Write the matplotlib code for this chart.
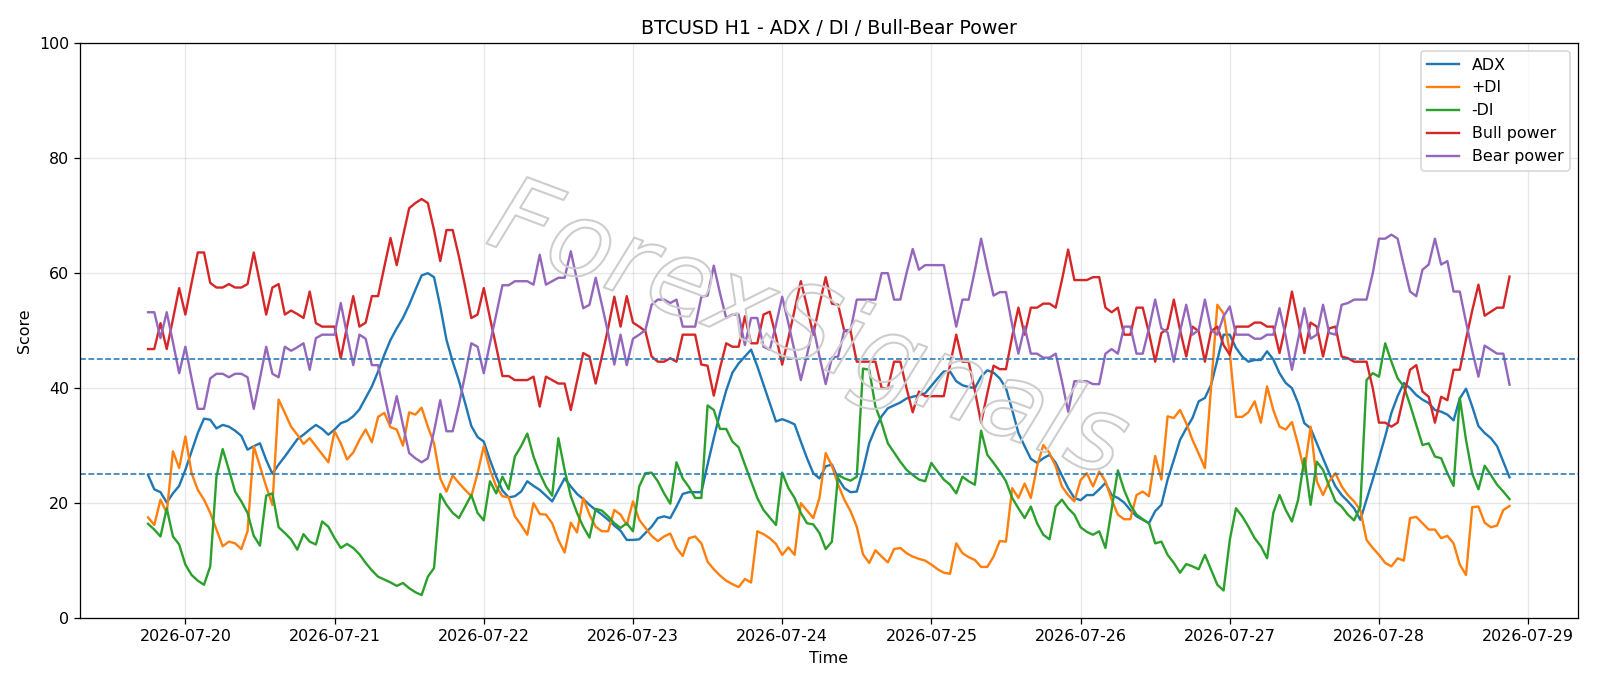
import matplotlib
matplotlib.use("Agg")
import matplotlib.pyplot as plt
import matplotlib.patheffects as pe
import pandas as pd

# hourly bars, 2026-07-19 18:00 .. 2026-07-28 21:00
start = "2026-07-19 18:00"
n_bars = 220

adx = [24.9, 22.4, 21.9, 20.1, 21.7, 23, 25.8, 29, 32.2, 34.7,
       34.5, 33, 33.6, 33.3, 32.6, 31.7, 29.3, 29.9, 30.4, 27.5,
       25.1, 26.7, 28.1, 29.6, 31.1, 31.9, 32.8, 33.6, 32.9, 31.9,
       32.8, 33.9, 34.3, 35.1, 36.3, 38.3, 40.3, 42.9, 45.8, 48.4,
       50.4, 52.2, 54.5, 57.1, 59.6, 60, 59.3, 54.2, 48.4, 44.6,
       41.3, 37.4, 33.4, 31.5, 30.7, 27.5, 24.6, 22.2, 21, 21.2,
       22, 23.8, 23, 22.3, 21.3, 20.3, 22.3, 24.3, 22.9, 21.6,
       20.7, 19.7, 18.8, 18, 17.1, 16.1, 15.2, 13.6, 13.6, 13.7,
       14.8, 15.9, 17.4, 17.7, 17.4, 19.4, 21.6, 21.9, 21.9, 21.9,
       26.7, 31.3, 35.7, 39.6, 42.7, 44.3, 45.5, 46.7, 43.8, 40.6,
       37.4, 34.2, 34.6, 34.2, 33.7, 30.7, 27.8, 25.2, 24.3, 26.4,
       26.7, 24.3, 22.6, 21.9, 22, 25.8, 30.4, 33, 35.1, 36.5,
       37, 37.5, 38.2, 38.5, 38.8, 39.1, 40.4, 41.7, 42.9, 42.9,
       41.2, 40.5, 40.2, 40, 42, 43.1, 42.7, 41.7, 40, 36.2,
       32.2, 29.9, 27.7, 27, 27.8, 28.4, 27, 24.8, 22.6, 20.9,
       20.5, 21.4, 21.4, 22.4, 23.5, 21.4, 20.9, 20.1, 18.8, 17.7,
       17.1, 16.5, 18.6, 19.7, 24.1, 27.5, 31, 33, 34.8, 37.7,
       38.3, 40.6, 44.9, 49.3, 49.3, 47, 45.5, 44.6, 44.9, 44.9,
       46.4, 45, 42.6, 40.9, 40, 37.4, 33.9, 33, 30.4, 27.8,
       25.2, 22.9, 21.4, 20.3, 19.1, 17.1, 20.6, 24.1, 27.8, 31.6,
       35.7, 38.6, 40.9, 40, 38.8, 38, 37.4, 36.2, 35.9, 35.4,
       34.4, 38.2, 39.9, 36.8, 33.4, 32.2, 31.3, 29.9, 27.2, 24.5]

plus_di = [17.5, 16.2, 20.6, 18.3, 29, 26.1, 31.6, 25.2, 22.3, 20.6,
           18.3, 15.4, 12.5, 13.3, 13, 12, 15.1, 29.9, 26.4, 22.9,
           19.7, 38, 35.7, 33.3, 31.9, 30.3, 31.3, 29.9, 28.5, 27.1,
           32.5, 30.4, 27.6, 28.8, 31, 32.8, 30.6, 35, 35.7, 33.2,
           32.8, 30, 35.8, 35.4, 36.6, 33.3, 30.4, 24.3, 22, 24.8,
           23.5, 22.3, 21.2, 25.2, 29.9, 25.8, 22.9, 21.2, 21, 17.7,
           16.2, 14.5, 20, 18.1, 18, 16.5, 13.6, 11.4, 16.6, 14.9,
           20.9, 18, 15.9, 15.1, 15.1, 18.8, 18, 16.2, 20.3, 17.1,
           15.7, 14.3, 13.4, 14.2, 14.7, 12.2, 10.8, 13.9, 14.2, 13,
           9.8, 8.5, 7.4, 6.5, 5.9, 5.4, 6.8, 6.2, 15.1, 14.6,
           13.9, 12.9, 11, 12.3, 11, 20, 18.7, 17.4, 20.9, 28.7,
           26.5, 23.2, 20.6, 18.6, 15.9, 11.1, 9.6, 11.8, 10.7, 9.7,
           12, 12.2, 11.3, 10.7, 10.3, 10, 9.3, 8.5, 7.9, 7.7,
           13, 11.3, 10.6, 10.1, 8.9, 8.9, 10.7, 13.4, 13.3, 22.6,
           20.9, 23.4, 20.9, 26.4, 30.1, 28.7, 26.4, 22.9, 21.4, 20.3,
           24, 25.2, 22.9, 25.5, 23.8, 20.6, 18, 17.2, 17.2, 21.4,
           22, 21.2, 28.2, 24.1, 35.1, 34.8, 36.2, 33.9, 31, 28.6,
           26.1, 40.3, 54.5, 53, 46.1, 35, 35, 35.8, 37.7, 34,
           40.3, 36.2, 33.3, 32.8, 34.1, 30.1, 25.5, 33.3, 23.8, 21.4,
           23.8, 25.2, 22.9, 21.4, 20.3, 18.8, 13.6, 12.2, 11, 9.6,
           9, 10.4, 10, 17.4, 17.6, 16.5, 15.4, 15.4, 13.9, 14.3,
           13, 9.3, 7.5, 19.3, 19.4, 16.6, 15.8, 16.1, 18.8, 19.5]

minus_di = [16.4, 15.4, 14.2, 19.1, 14.2, 12.8, 9.3, 7.5, 6.5, 5.8,
            9, 24.6, 29.4, 25.8, 22, 20.3, 18.3, 14.3, 12.6, 21.3,
            21.7, 15.8, 14.8, 13.7, 11.9, 14.6, 13.3, 12.8, 16.8, 15.9,
            13.9, 12.2, 12.9, 12.2, 11.1, 9.6, 8.3, 7.2, 6.7, 6.2,
            5.6, 6.1, 5.2, 4.5, 4, 7.2, 8.7, 21.6, 19.7, 18.3,
            17.4, 19.4, 21.4, 18.3, 17, 23.8, 21.7, 24.6, 22.4, 28.1,
            29.9, 32.1, 28.1, 25.2, 22.9, 21.3, 31.3, 25.8, 21.2, 18.3,
            15.9, 14, 19, 18.7, 17.7, 16.5, 15.7, 16.5, 15.1, 22.9,
            25.2, 25.3, 23.8, 21.7, 19.9, 27.1, 24.3, 22.8, 20.9, 20.9,
            37, 36.2, 32.9, 32.9, 30.7, 29.7, 26.7, 23.8, 20.9, 18.8,
            17.5, 16.2, 25.3, 22.6, 20.9, 18.3, 16.5, 16.3, 14.8, 12,
            13.3, 24.9, 24.3, 23.9, 24.6, 43.4, 43.2, 36.8, 33.9, 30.4,
            28.8, 27.2, 25.8, 24.9, 24.1, 23.8, 27, 25.5, 24.1, 23.2,
            21.7, 24.6, 23.8, 23.2, 32.6, 28.4, 27, 25.5, 23.8, 20.9,
            19.1, 17.4, 19.4, 16.5, 14.5, 13.7, 19.4, 20.6, 19.1, 18,
            15.8, 15, 14.5, 15.1, 12.2, 19, 25.7, 22.3, 19.7, 18,
            17.2, 16.5, 13, 13.3, 11, 9.6, 7.9, 9.4, 9, 8.5,
            11, 8.4, 5.8, 4.8, 13.6, 19.1, 17.7, 15.9, 13.9, 12.5,
            10.4, 18.3, 21.4, 18.8, 16.8, 20.6, 27.8, 19.7, 27.2, 25.8,
            22.9, 20.3, 19.4, 18, 17, 19.4, 41.4, 42.6, 42, 47.8,
            44.6, 41.7, 40.3, 37.1, 33.6, 30.1, 30.4, 28.1, 27.8, 25.2,
            23, 38.3, 31, 25.1, 22.4, 26.5, 24.9, 23.2, 22, 20.7]

bull = [46.8, 46.8, 51.3, 46.8, 52, 57.4, 52.8, 58.3, 63.6, 63.6,
        58.3, 57.5, 57.5, 58.1, 57.5, 57.5, 58.1, 63.6, 58.3, 52.8,
        57.5, 58.1, 52.8, 53.5, 52.9, 52.2, 56.8, 51.3, 50.7, 50.7,
        50.7, 45.2, 50.7, 56, 50.7, 51.4, 56, 56, 61.1, 66.1,
        61.4, 66.4, 71.3, 72.2, 72.9, 72.2, 67.5, 62.1, 67.5, 67.5,
        62.9, 57.7, 52.2, 52.8, 57.4, 52.2, 47.2, 42.1, 42.1, 41.4,
        41.4, 41.4, 42, 36.8, 42, 41.4, 40.8, 40.8, 36.2, 41.2,
        46.1, 45.5, 40.8, 45.5, 50.4, 55.9, 50.7, 56, 51.4, 50.7,
        49.9, 45.5, 44.6, 44.6, 45.2, 44.6, 49.3, 49.3, 49.3, 44.1,
        43.9, 38.7, 43.5, 47.8, 47.2, 47.2, 52.5, 47.8, 47.8, 52.8,
        53.3, 49, 44.1, 48.7, 53.6, 58.6, 54.2, 49.3, 54.5, 59.3,
        54.7, 54.5, 49.9, 49.9, 44.6, 44.6, 44.6, 44.6, 40, 40,
        44.6, 44.6, 40, 35.8, 39.4, 38.6, 38.6, 38.6, 38.6, 44,
        49.3, 44.6, 44.6, 39.5, 34, 39.1, 43.9, 43.3, 43.3, 49,
        54, 49.3, 54, 54, 54.7, 54.7, 54, 58.8, 64.1, 58.8,
        58.8, 58.8, 59.3, 59.3, 54, 53.2, 54, 49.3, 49.3, 54,
        54, 49.6, 44.6, 49.6, 50.3, 55.4, 50.1, 45.5, 50.7, 49.9,
        44.6, 49.9, 50.7, 47.5, 45.8, 50.7, 50.7, 50.7, 51.4, 51.4,
        50.7, 50.7, 46.1, 51, 56.8, 51.5, 46.1, 51.4, 50.7, 45.5,
        50.4, 50.7, 45.5, 45.2, 44.6, 44.6, 44.6, 40, 34, 34,
        33.3, 34, 38.7, 43.2, 44, 39.4, 38.5, 34, 38.5, 37.9,
        43.2, 43.2, 48.5, 53.5, 58, 52.6, 53.3, 54, 54, 59.4]

bear = [53.2, 53.2, 48.7, 53.2, 48, 42.6, 47.2, 41.7, 36.4, 36.4,
        41.7, 42.5, 42.5, 41.9, 42.5, 42.5, 41.9, 36.4, 41.7, 47.2,
        42.5, 41.9, 47.2, 46.5, 47.1, 47.8, 43.2, 48.7, 49.3, 49.3,
        49.3, 54.8, 49.3, 44, 49.3, 48.6, 44, 44, 38.9, 33.9,
        38.6, 33.6, 28.7, 27.8, 27.1, 27.8, 32.5, 37.9, 32.5, 32.5,
        37.1, 42.3, 47.8, 47.2, 42.6, 47.8, 52.8, 57.9, 57.9, 58.6,
        58.6, 58.6, 58, 63.2, 58, 58.6, 59.2, 59.2, 63.8, 58.8,
        53.9, 54.5, 59.2, 54.5, 49.6, 44.1, 49.3, 44, 48.6, 49.3,
        50.1, 54.5, 55.4, 55.4, 54.8, 55.4, 50.7, 50.7, 50.7, 55.9,
        56.1, 61.3, 56.5, 52.2, 52.8, 52.8, 47.5, 52.2, 52.2, 47.2,
        46.7, 51, 55.9, 51.3, 46.4, 41.4, 45.8, 50.7, 45.5, 40.7,
        45.3, 45.5, 50.1, 50.1, 55.4, 55.4, 55.4, 55.4, 60, 60,
        55.4, 55.4, 60, 64.2, 60.6, 61.4, 61.4, 61.4, 61.4, 56,
        50.7, 55.4, 55.4, 60.5, 66, 60.9, 56.1, 56.7, 56.7, 51,
        46, 50.7, 46, 46, 45.3, 45.3, 46, 41.2, 35.9, 41.2,
        41.2, 41.2, 40.7, 40.7, 46, 46.8, 46, 50.7, 50.7, 46,
        46, 50.4, 55.4, 50.4, 49.7, 44.6, 49.9, 54.5, 49.3, 50.1,
        55.4, 50.1, 49.3, 52.5, 54.2, 49.3, 49.3, 49.3, 48.6, 48.6,
        49.3, 49.3, 53.9, 49, 43.2, 48.5, 53.9, 48.6, 49.3, 54.5,
        49.6, 49.3, 54.5, 54.8, 55.4, 55.4, 55.4, 60, 66, 66,
        66.7, 66, 61.3, 56.8, 56, 60.6, 61.5, 66, 61.5, 62.1,
        56.8, 56.8, 51.5, 46.5, 42, 47.4, 46.7, 46, 46, 40.6]

times = pd.date_range(start, periods=n_bars, freq="h")

fig = plt.figure(figsize=(14, 6.0025), dpi=1600 / 14)
ax = fig.add_axes([0.05, 0.099, 0.936, 0.838])

ax.plot(times, adx, label="ADX")
ax.plot(times, plus_di, label="+DI")
ax.plot(times, minus_di, label="-DI")
ax.plot(times, bull, label="Bull power")
ax.plot(times, bear, label="Bear power")

ax.axhline(25, linestyle="--", linewidth=1)
ax.axhline(45, linestyle="--", linewidth=1)

ax.set_ylim(0, 100)
ax.set_title("BTCUSD H1 - ADX / DI / Bull-Bear Power")
ax.set_xlabel("Time")
ax.set_ylabel("Score")
ax.grid(True, alpha=0.3)
ax.legend(loc="upper right")

# faint outlined watermark across the middle
fig.text(0.505, 0.515, "ForexSignals", fontsize=66, fontstyle="italic",
         rotation=-20.5, ha="center", va="center", color=(1, 1, 1, 0),
         path_effects=[pe.Stroke(linewidth=1.3, foreground="#cdcdcd")],
         zorder=0.5)

fig.savefig("out.png", dpi=1600 / 14)
